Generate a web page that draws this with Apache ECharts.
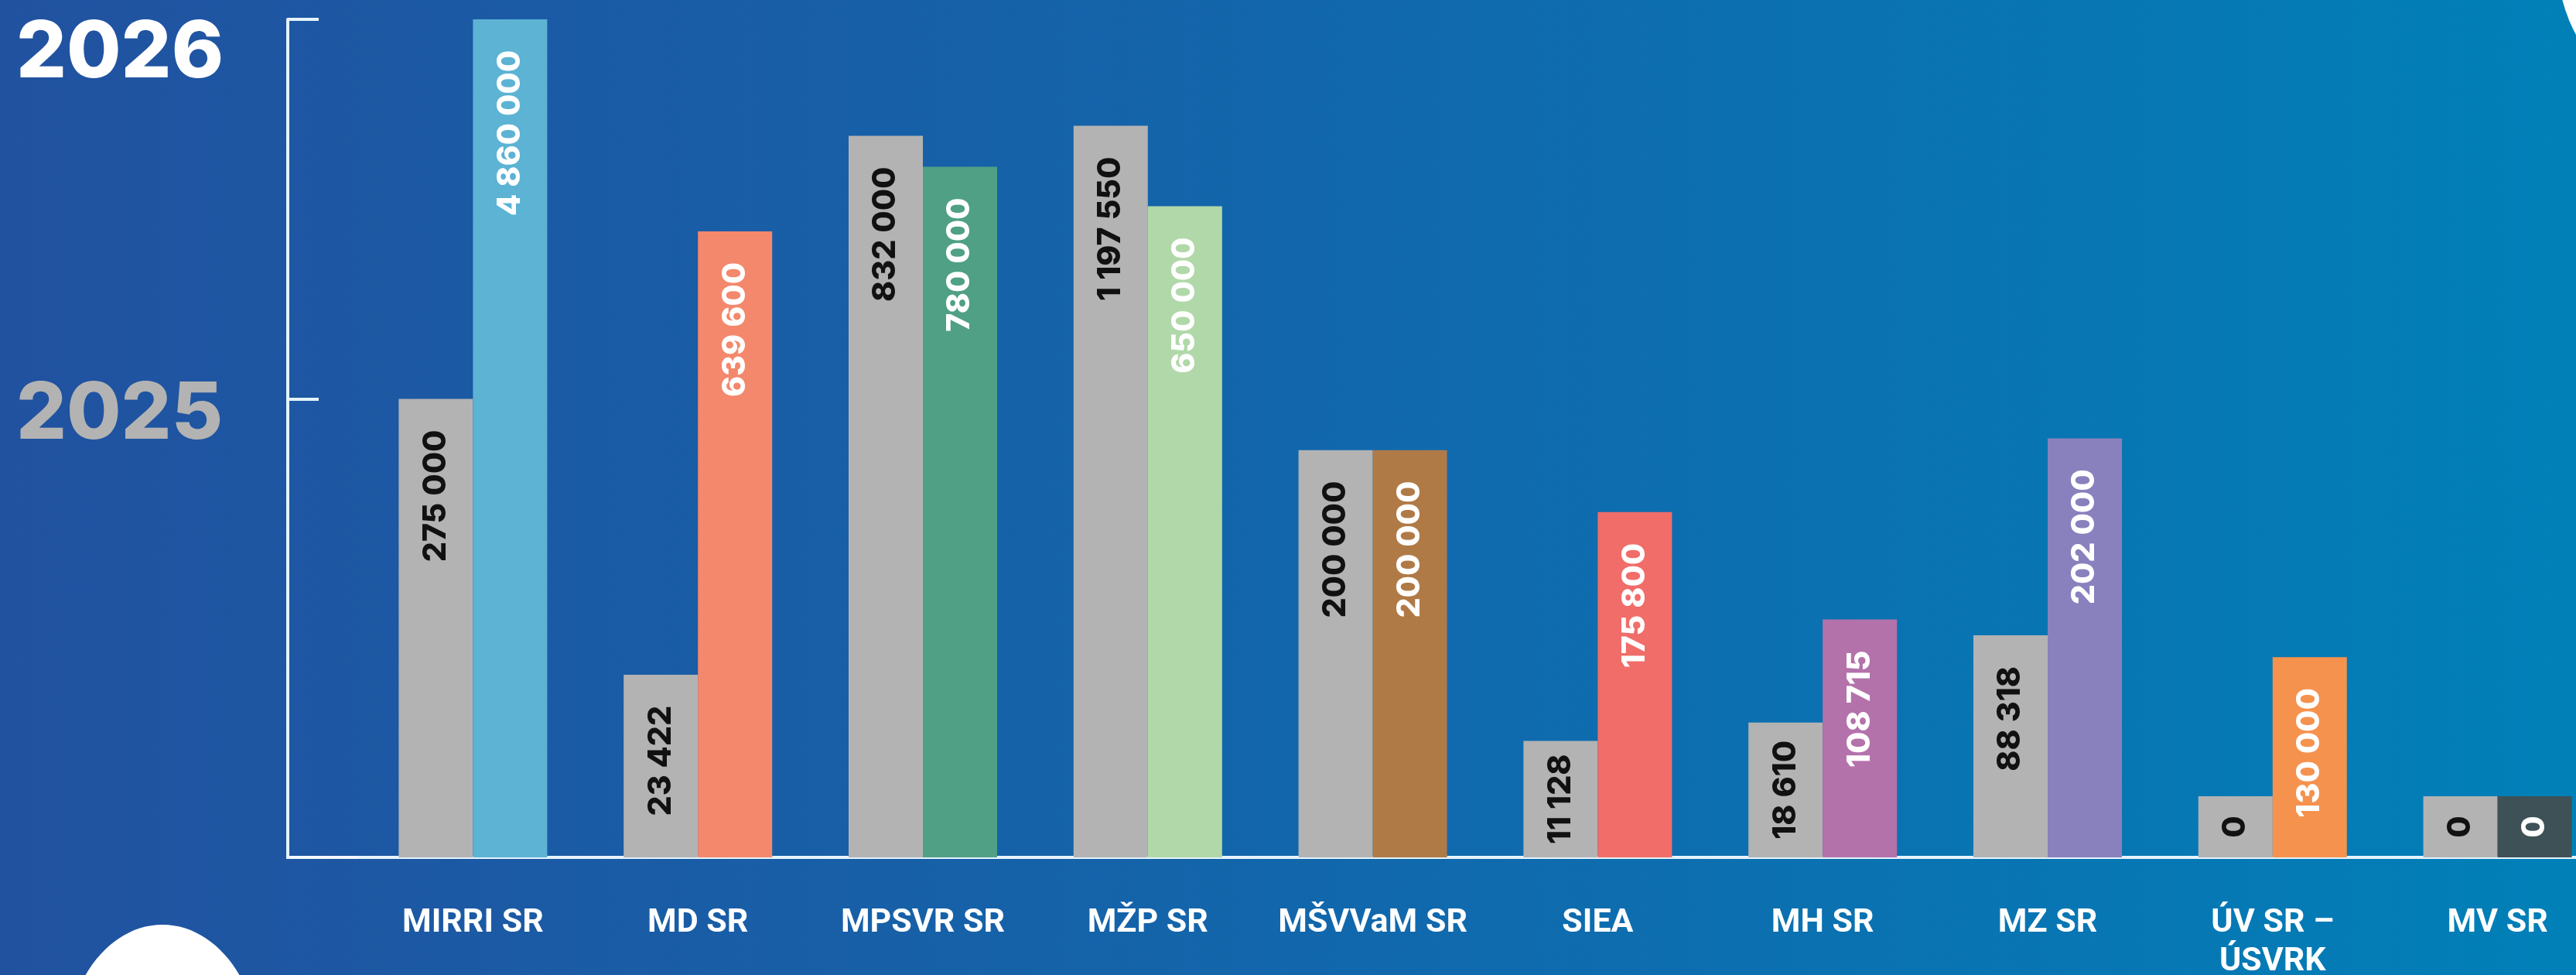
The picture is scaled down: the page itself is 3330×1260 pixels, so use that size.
<!DOCTYPE html>
<html lang="sk">
<head>
<meta charset="UTF-8">
<title>Rozpočet 2025 / 2026</title>
<script src="https://cdn.jsdelivr.net/npm/echarts@6/dist/echarts.min.js"></script>
<style>
  html, body { margin: 0; padding: 0; }
  #chart { width: 3330px; height: 1260px; }
</style>
</head>
<body>
<div id="chart"></div>
<script>
// kategórie (rezorty)
var categories = ['MIRRI SR', 'MD SR', 'MPSVR SR', 'MŽP SR', 'MŠVVaM SR', 'SIEA', 'MH SR', 'MZ SR', 'ÚV SR –\nÚSVRK', 'MV SR'];

// hodnoty v popisoch stĺpcov (EUR)
var value2025 = [275000, 23422, 832000, 1197550, 200000, 11128, 18610, 88318, 0, 0];
var value2026 = [4860000, 639600, 780000, 650000, 200000, 175800, 108715, 202000, 130000, 0];

// výška stĺpcov ako je nakreslená (graf nie je v mierke), % najvyššieho stĺpca
var height2025 = [54.7, 21.8, 86.1, 87.3, 48.6, 13.9, 16.1, 26.5, 7.3, 7.3];
var height2026 = [100, 74.7, 82.4, 77.7, 48.6, 41.2, 28.4, 50.0, 23.9, 7.3];

// farby stĺpcov 2026
var colors2026 = ['#5cb3d4', '#f4886c', '#4fa085', '#b1d8a9', '#b07a47', '#f06d69', '#b472ab', '#8981bd', '#f5924e', '#3d5156'];

var years = ['2025', '2026'];
var yearTicks = [height2025[0], height2026[0]];

var chart = echarts.init(document.getElementById('chart'));

function fmt(v) {
  return String(v).replace(/\B(?=(\d{3})+(?!\d))/g, ' ');
}

// nízke stĺpce majú popis v strede
function makeData(heights, values) {
  return heights.map(function (h, i) {
    var item = { value: h, realValue: values[i] };
    if (h < 17) {
      item.label = { position: 'inside', align: 'center', verticalAlign: 'middle' };
    }
    return item;
  });
}

var valueLabel = {
  show: true,
  position: 'insideTop',
  distance: 40,
  rotate: 90,
  align: 'right',
  verticalAlign: 'middle',
  fontFamily: 'Inter',
  fontWeight: 800,
  fontSize: 41
};

chart.setOption({
  backgroundColor: {
    type: 'linear', x: 0, y: 0, x2: 1, y2: 0,
    colorStops: [
      { offset: 0, color: '#2152a0' },
      { offset: 0.45, color: '#1464aa' },
      { offset: 1, color: '#0180b8' }
    ]
  },
  animation: false,
  grid: { left: 466, top: 25, width: 2908, height: 1083, outerBoundsMode: 'none', containLabel: false },
  xAxis: {
    type: 'category',
    data: categories,
    axisLine: { lineStyle: { color: '#e6f3fc', width: 4 } },
    axisTick: { show: false },
    axisLabel: {
      interval: 0,
      color: '#ffffff',
      fontFamily: 'Roboto',
      fontWeight: 'bold',
      fontSize: 43,
      lineHeight: 50,
      margin: 60
    }
  },
  yAxis: {
    type: 'value',
    min: 0,
    max: 100,
    offset: 94,
    splitLine: { show: false },
    axisLine: { show: true, lineStyle: { color: '#e6f3fc', width: 4 } },
    axisTick: {
      show: true,
      inside: true,
      length: 40,
      customValues: yearTicks,
      lineStyle: { color: '#e6f3fc', width: 4 }
    },
    axisLabel: {
      customValues: yearTicks,
      align: 'left',
      margin: 351,
      formatter: function (v) {
        return v === yearTicks[1] ? '{y26|' + years[1] + '}' : '{y25|' + years[0] + '}';
      },
      rich: {
        y25: { color: '#b3b3b3', fontFamily: 'Inter', fontWeight: 800, fontSize: 102, padding: [42, 0, 0, 0] },
        y26: { color: '#ffffff', fontFamily: 'Inter', fontWeight: 800, fontSize: 102, padding: [88, 0, 0, 0] }
      }
    }
  },
  graphic: [
    { type: 'line', shape: { x1: 370, y1: 1108, x2: 468, y2: 1108 }, style: { stroke: '#f2f8fd', lineWidth: 4 } },
    { type: 'ellipse', shape: { cx: 210, cy: 1360, rx: 125, ry: 165 }, style: { fill: '#ffffff' } },
    { type: 'circle', shape: { cx: 3506, cy: -50, r: 200 }, style: { fill: '#ffffff' } }
  ],
  series: [
    {
      name: years[0],
      type: 'bar',
      barWidth: 96,
      barGap: '0%',
      data: makeData(height2025, value2025),
      itemStyle: { color: '#b3b3b3' },
      label: Object.assign({}, valueLabel, {
        color: '#111111',
        formatter: function (p) { return fmt(p.data.realValue); }
      })
    },
    {
      name: years[1],
      type: 'bar',
      barWidth: 96,
      barGap: '0%',
      data: makeData(height2026, value2026),
      itemStyle: {
        color: function (p) { return colors2026[p.dataIndex]; }
      },
      label: Object.assign({}, valueLabel, {
        color: '#ffffff',
        formatter: function (p) { return fmt(p.data.realValue); }
      })
    }
  ]
});
</script>
</body>
</html>
